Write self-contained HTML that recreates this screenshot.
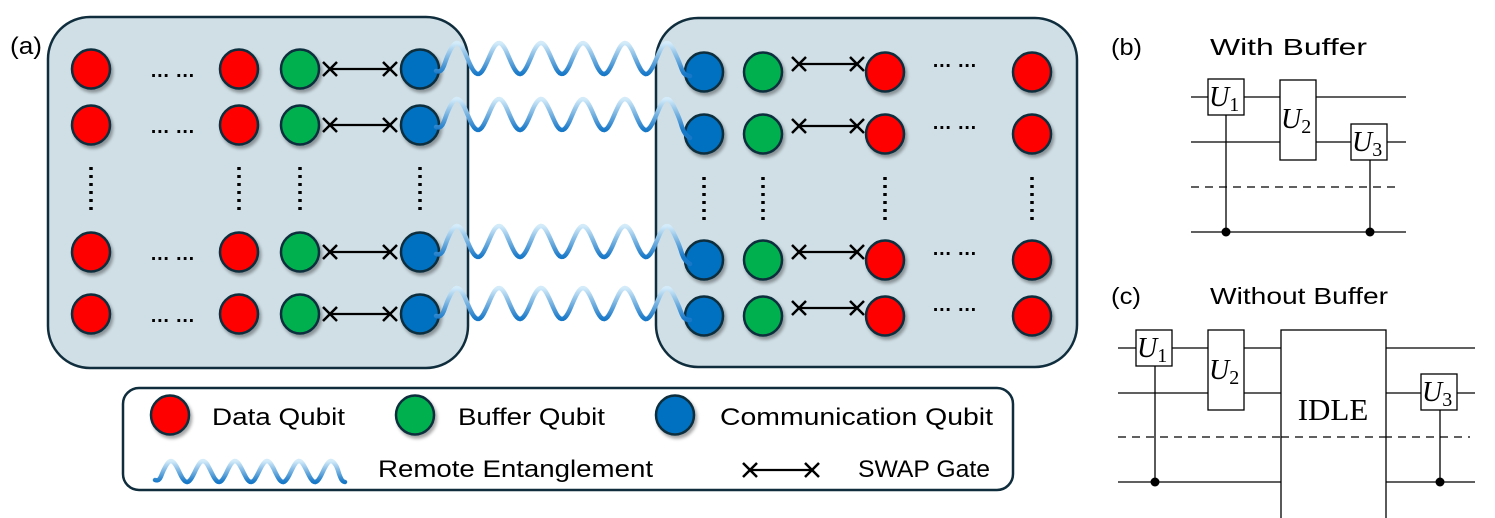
<!DOCTYPE html>
<html><head><meta charset="utf-8"><style>
html,body{margin:0;padding:0;background:#fff;}
svg{display:block;}
text{font-family:"Liberation Sans",sans-serif;}
.ser{font-family:"Liberation Serif",serif;}
</style></head><body>
<svg id="s" width="1495" height="518" viewBox="0 0 1495 518" xmlns="http://www.w3.org/2000/svg">
<defs>
<filter id="sh" x="-30%" y="-30%" width="170%" height="170%"><feDropShadow dx="2" dy="3" stdDeviation="1.5" flood-color="#000" flood-opacity="0.35"/></filter>
</defs>
<text x="10" y="54" font-size="24" textLength="32" lengthAdjust="spacingAndGlyphs">(a)</text>
<rect x="48" y="17" width="420" height="351" rx="42" fill="#d0dfe6" stroke="#0f2d3c" stroke-width="2.5"/>
<rect x="656" y="18" width="421" height="349" rx="42" fill="#d0dfe6" stroke="#0f2d3c" stroke-width="2.5"/>
<rect x="123" y="388" width="890" height="102" rx="16" fill="#fff" stroke="#0f2d3c" stroke-width="2.5"/>
<g id="g"></g>
<text x="212" y="425" font-size="24" textLength="133" lengthAdjust="spacingAndGlyphs">Data Qubit</text>
<text x="458" y="425" font-size="24" textLength="147" lengthAdjust="spacingAndGlyphs">Buffer Qubit</text>
<text x="720" y="425" font-size="24" textLength="273" lengthAdjust="spacingAndGlyphs">Communication Qubit</text>
<text x="378" y="477" font-size="24" textLength="275" lengthAdjust="spacingAndGlyphs">Remote Entanglement</text>
<text x="858" y="477" font-size="24" textLength="132" lengthAdjust="spacingAndGlyphs">SWAP Gate</text>

<!-- (b) -->
<text x="1111" y="55" font-size="23" textLength="31" lengthAdjust="spacingAndGlyphs">(b)</text>
<text x="1210" y="55" font-size="23" textLength="157" lengthAdjust="spacingAndGlyphs">With Buffer</text>
<g stroke="#000" stroke-width="1.3" fill="none">
<line x1="1191" y1="97" x2="1406" y2="97"/>
<line x1="1191" y1="142" x2="1406" y2="142"/>
<line x1="1191" y1="187" x2="1397" y2="187" stroke-dasharray="8,6"/>
<line x1="1191" y1="232" x2="1406" y2="232"/>
<line x1="1226" y1="115" x2="1226" y2="232"/>
<line x1="1370" y1="160" x2="1370" y2="232"/>
<rect x="1208" y="79" width="36" height="36" fill="#fff"/>
<rect x="1280" y="80" width="36" height="80" fill="#fff"/>
<rect x="1351" y="124" width="36" height="36" fill="#fff"/>
</g>
<circle cx="1226" cy="232" r="4.5"/><circle cx="1370" cy="232" r="4.5"/>
<text class="ser" x="1209" y="106" font-size="28" font-style="italic">U<tspan font-style="normal" font-size="20" dy="5">1</tspan></text>
<text class="ser" x="1281" y="128" font-size="28" font-style="italic">U<tspan font-style="normal" font-size="20" dy="5">2</tspan></text>
<text class="ser" x="1352" y="151" font-size="28" font-style="italic">U<tspan font-style="normal" font-size="20" dy="5">3</tspan></text>

<!-- (c) -->
<text x="1111" y="304" font-size="23" textLength="30" lengthAdjust="spacingAndGlyphs">(c)</text>
<text x="1210" y="304" font-size="23" textLength="178" lengthAdjust="spacingAndGlyphs">Without Buffer</text>
<g stroke="#000" stroke-width="1.3" fill="none">
<line x1="1118" y1="348" x2="1475" y2="348"/>
<line x1="1118" y1="393" x2="1475" y2="393"/>
<line x1="1118" y1="437" x2="1470" y2="437" stroke-dasharray="8,6"/>
<line x1="1118" y1="482" x2="1475" y2="482"/>
<line x1="1155" y1="366" x2="1155" y2="482"/>
<line x1="1440" y1="410" x2="1440" y2="482"/>
<rect x="1136" y="330" width="36" height="36" fill="#fff"/>
<rect x="1208" y="330" width="36" height="80" fill="#fff"/>
<rect x="1421" y="374" width="36" height="36" fill="#fff"/>
<rect x="1281" y="330" width="105" height="190" fill="#fff"/>
</g>
<line x1="1281" y1="437" x2="1386" y2="437" stroke="#000" stroke-width="1.3" stroke-dasharray="8,6"/>
<circle cx="1155" cy="482" r="4.5"/><circle cx="1440" cy="482" r="4.5"/>
<text class="ser" x="1333" y="420" font-size="31" text-anchor="middle">IDLE</text>
<text class="ser" x="1137" y="357" font-size="28" font-style="italic">U<tspan font-style="normal" font-size="20" dy="5">1</tspan></text>
<text class="ser" x="1209" y="379" font-size="28" font-style="italic">U<tspan font-style="normal" font-size="20" dy="5">2</tspan></text>
<text class="ser" x="1422" y="401" font-size="28" font-style="italic">U<tspan font-style="normal" font-size="20" dy="5">3</tspan></text>
</svg>
<script>
var NS="http://www.w3.org/2000/svg",g=document.getElementById('g'),defs=document.querySelector('defs'),gid=0;
function el(t,a,p){var e=document.createElementNS(NS,t);for(var k in a)e.setAttribute(k,a[k]);(p||g).appendChild(e);return e;}
var C={r:'#ff0000',g:'#00b050',b:'#0070c0'};
function circ(x,y,c,ry){el('ellipse',{cx:x,cy:y,rx:19,ry:ry||19.5,fill:C[c],stroke:'#0f2d3c','stroke-width':2.5,filter:'url(#sh)'});}
function X(x,y){el('path',{d:'M'+(x-7)+' '+(y-7)+'L'+(x+7)+' '+(y+7)+'M'+(x+7)+' '+(y-7)+'L'+(x-7)+' '+(y+7),stroke:'#000','stroke-width':2.5});}
function swap(x1,x2,y){el('line',{x1:x1,y1:y,x2:x2,y2:y,stroke:'#000','stroke-width':2.2});X(x1,y);X(x2,y);}
function hdots(x,y){el('text',{x:x,y:y,'font-size':20,'font-weight':'bold','font-family':'Liberation Sans',textLength:45,lengthAdjust:'spacingAndGlyphs'}).textContent='… …';}
function vdots(x,y1,y2){el('line',{x1:x,y1:y1,x2:x,y2:y2,stroke:'#000','stroke-width':3.5,'stroke-dasharray':'3,5'});}
function wave(x1,y1,x2,y2,top,bot,wl){
  var id='w'+(gid++);var lg=el('linearGradient',{id:id,gradientUnits:'userSpaceOnUse',x1:0,y1:top,x2:0,y2:bot},defs);
  el('stop',{offset:0,'stop-color':'#d4ecfa'},lg);el('stop',{offset:1,'stop-color':'#1878c8'},lg);
  var d='',n=160,mid=(top+bot)/2,A=(bot-top)/2;
  for(var i=0;i<=n;i++){var t=i/n,x=x1+(x2-x1)*t;var ph=(x-x1)/wl*2*Math.PI;var y=mid+A*Math.cos(ph);
   if(t<0.04){y=y1+(y-y1)*(t/0.04);} if(t>0.96){y=y2+(y-y2)*((1-t)/0.04);}
   d+=(i?'L':'M')+x.toFixed(1)+' '+y.toFixed(1);}
  el('path',{d:d,fill:'none',stroke:'url(#'+id+')','stroke-width':4.5,'stroke-linecap':'round'});
}
var L=[69,125,252,314],R=[72,134,260,316];
for(var i=0;i<4;i++){
  var y=L[i];circ(91,y,'r');hdots(150,y+8);circ(239,y,'r');swap(330,390,y);circ(300,y,'g');circ(420,y,'b');
  var yr=R[i];circ(704,yr,'b');circ(763,yr,'g');swap(799,857,yr-8);circ(885,yr,'r');hdots(932,yr-5);circ(1032,yr,'r');
}
for(var i=0;i<4;i++){var a=L[i],b=R[i];wave(436,a+2,690,b+4,Math.min(a,b)-26,Math.min(a,b)+5,42);}
[91,239,300,420].forEach(function(x){vdots(x,167,210);});
[704,763,885,1032].forEach(function(x){vdots(x,177,220);});
circ(170,415,'r');circ(415,415,'g');circ(675,415,'b');
wave(155,480,345,482,461,482,32);
swap(750,812,470);
</script>
</body></html>
